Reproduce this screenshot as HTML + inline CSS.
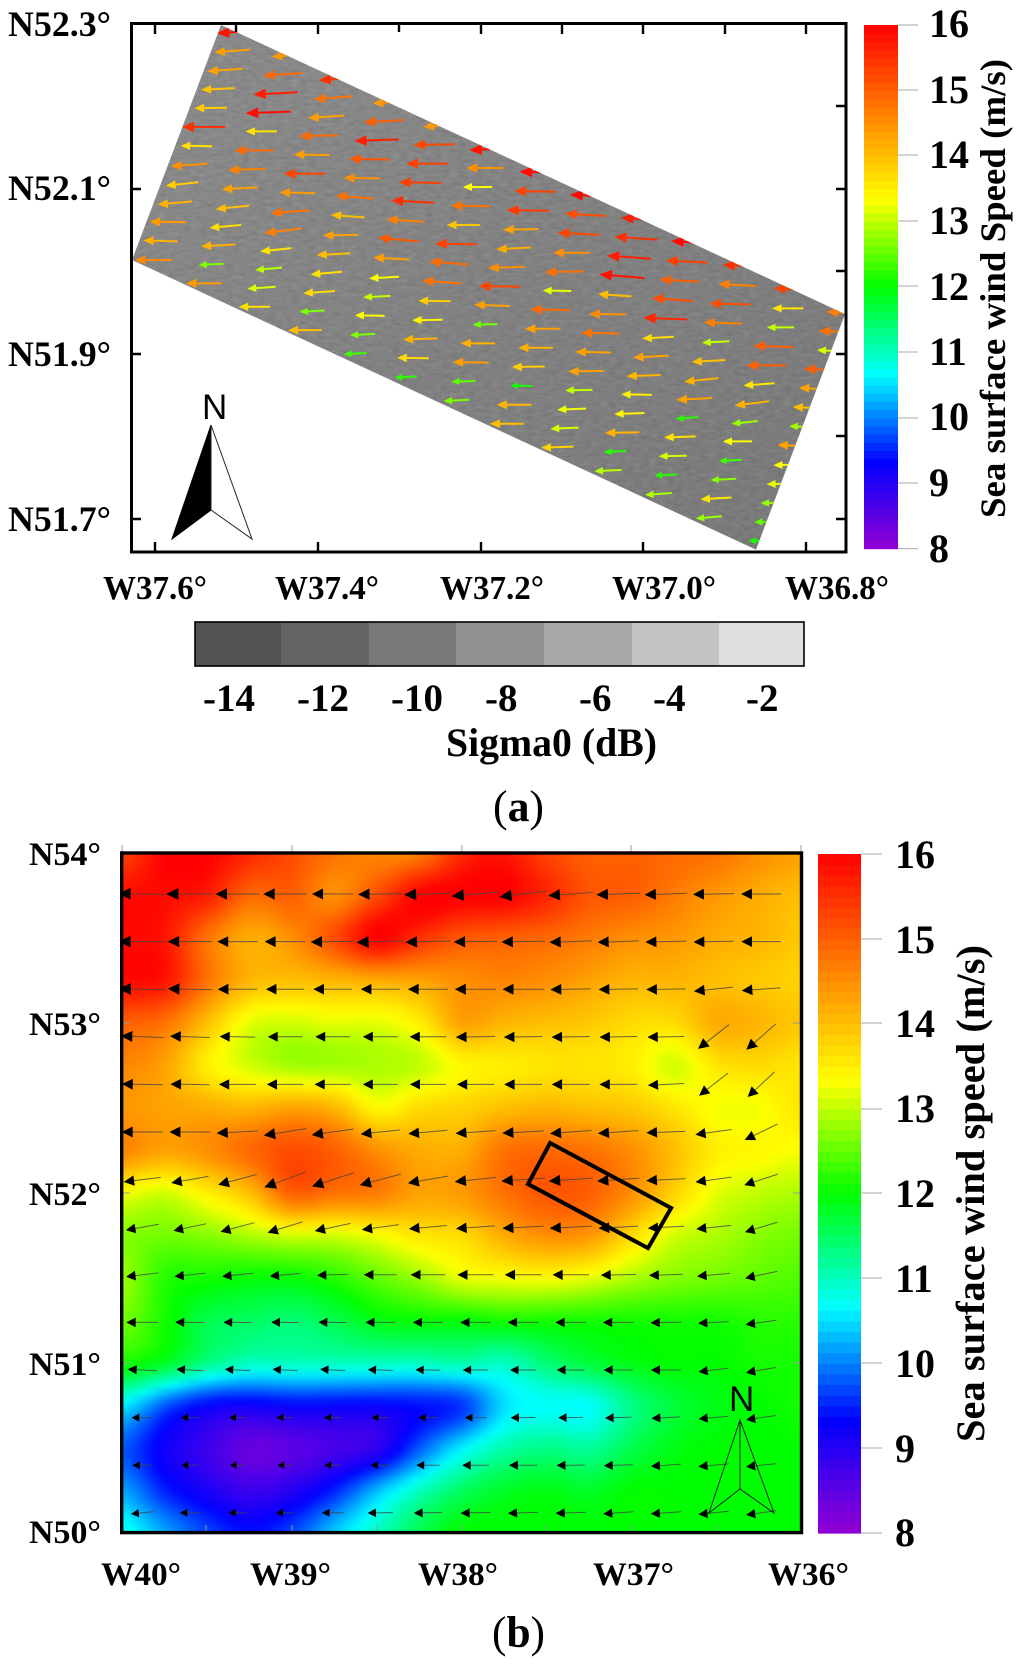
<!DOCTYPE html>
<html lang="en">
<head>
<meta charset="utf-8">
<title>Sea surface wind speed maps</title>
<style>
html,body{margin:0;padding:0;background:#fff;}
svg{display:block;}
text{font-family:"Liberation Serif",serif;font-weight:bold;fill:#000;}
.sans{font-family:"Liberation Sans",sans-serif;font-weight:normal;}
</style>
</head>
<body>
<svg id="fig" xmlns="http://www.w3.org/2000/svg" width="1024" height="1668" viewBox="0 0 1024 1668">
<defs>
<clipPath id="swathClip"><polygon id="swathClipPoly" points="0,0"/></clipPath>
<clipPath id="plotBClip"><rect x="122" y="853" width="680" height="680"/></clipPath>
<linearGradient id="swathGrad" x1="0" y1="0" x2="1" y2="1">
<stop offset="0" stop-color="#8d8d8d"/><stop offset="1" stop-color="#787878"/>
</linearGradient>
<filter id="noise" x="0" y="0" width="100%" height="100%" color-interpolation-filters="sRGB">
<feTurbulence type="fractalNoise" baseFrequency="0.12 0.30" numOctaves="2" seed="4"/>
<feColorMatrix type="matrix" values="0.6 0.6 0 0 -0.1  0.6 0.6 0 0 -0.1  0.6 0.6 0 0 -0.1  0 0 0 0 1"/>
</filter>
<filter id="heatBlur" filterUnits="userSpaceOnUse" x="90" y="820" width="745" height="745" color-interpolation-filters="sRGB">
<feGaussianBlur stdDeviation="3.2"/>
</filter>
</defs>

<!-- PANEL A -->
<g>
<g clip-path="url(#swathClip)">
<rect x="125" y="20" width="725" height="535" fill="url(#swathGrad)"/>
<rect x="125" y="20" width="725" height="535" filter="url(#noise)" opacity="0.11"/>
<g id="arrowsA"></g>
</g>
<rect x="131.5" y="23.5" width="714.5" height="528.5" fill="none" stroke="#000" stroke-width="3"/>
<g stroke="#000" stroke-width="2.4">
<path d="M155 24V34M236 24V32M318 24V34M399 24V32M481 24V34M562 24V34M643 24V34M725 24V34M806 24V34"/>
<path d="M155 552V542M318 552V542M481 552V542M643 552V542M806 552V542"/>
<path d="M132 189H141M132 354H141M132 519H141"/>
<path d="M846 106H836M846 189H836M846 271H836M846 354H836M846 436H836M846 519H836"/>
</g>
<text x="8" y="36" font-size="36" textLength="103" lengthAdjust="spacingAndGlyphs">N52.3°</text>
<text x="8" y="200" font-size="36" textLength="103" lengthAdjust="spacingAndGlyphs">N52.1°</text>
<text x="8" y="366" font-size="36" textLength="103" lengthAdjust="spacingAndGlyphs">N51.9°</text>
<text x="8" y="531" font-size="36" textLength="103" lengthAdjust="spacingAndGlyphs">N51.7°</text>
<text x="103" y="599" font-size="34" textLength="104" lengthAdjust="spacingAndGlyphs">W37.6°</text>
<text x="275" y="599" font-size="34" textLength="104" lengthAdjust="spacingAndGlyphs">W37.4°</text>
<text x="440" y="599" font-size="34" textLength="104" lengthAdjust="spacingAndGlyphs">W37.2°</text>
<text x="612" y="599" font-size="34" textLength="104" lengthAdjust="spacingAndGlyphs">W37.0°</text>
<text x="785" y="599" font-size="34" textLength="104" lengthAdjust="spacingAndGlyphs">W36.8°</text>

<g>
<text class="sans" x="202" y="419" font-size="35">N</text>
<polygon points="211,425 172,539 211,510" fill="#000" stroke="#000" stroke-width="1"/>
<polygon points="211,425 252,539 211,510" fill="#fff" stroke="#222" stroke-width="1"/>
</g>

<g id="colorbarA"></g>
<g stroke="#aaa" stroke-width="1">
<path d="M898 25H918M898 90H918M898 155H918M898 221H918M898 286H918M898 352H918M898 418H918M898 483H918M898 548.6H918"/>
</g>
<g font-size="40">
<text x="929" y="37">16</text>
<text x="929" y="103">15</text>
<text x="929" y="168">14</text>
<text x="929" y="234">13</text>
<text x="929" y="300">12</text>
<text x="929" y="365">11</text>
<text x="929" y="430">10</text>
<text x="929" y="496">9</text>
<text x="929" y="562">8</text>
</g>
<text transform="translate(1005,518) rotate(-90)" font-size="36" textLength="459" lengthAdjust="spacingAndGlyphs">Sea surface wind Speed (m/s)</text>

<g>
<rect x="195" y="622" width="86" height="44" fill="#535353"/>
<rect x="281" y="622" width="88" height="44" fill="#636363"/>
<rect x="369" y="622" width="87" height="44" fill="#787878"/>
<rect x="456" y="622" width="88" height="44" fill="#919191"/>
<rect x="544" y="622" width="88" height="44" fill="#a8a8a8"/>
<rect x="632" y="622" width="87" height="44" fill="#c3c3c3"/>
<rect x="719" y="622" width="85" height="44" fill="#dfdfdf"/>
<rect x="195" y="622" width="609" height="44" fill="none" stroke="#000" stroke-width="1.6"/>
</g>
<g font-size="39">
<text x="203" y="711">-14</text>
<text x="297" y="711">-12</text>
<text x="391" y="711">-10</text>
<text x="485" y="711">-8</text>
<text x="579" y="711">-6</text>
<text x="653" y="711">-4</text>
<text x="746" y="711">-2</text>
</g>
<text x="446" y="756" font-size="40" textLength="211" lengthAdjust="spacingAndGlyphs">Sigma0 (dB)</text>
<text x="493" y="821" font-size="44" textLength="51" lengthAdjust="spacingAndGlyphs"><tspan font-weight="normal">(</tspan>a<tspan font-weight="normal">)</tspan></text>
</g>

<!-- PANEL B -->
<g>
<g clip-path="url(#plotBClip)">
<g id="heatB" filter="url(#heatBlur)" shape-rendering="crispEdges"></g>
<g id="arrowsB"></g>
</g>
<polygon id="swathBox" fill="none" stroke="#000" stroke-width="4" stroke-linejoin="miter" points="0,0"/>
<g stroke="#999" stroke-width="1">
<path d="M122 845V853M292 845V853M462 845V853M631 845V853M801 845V853"/>
<path d="M206 1532V1525M292 1532V1525M377 1532V1525M462 1532V1525M546 1532V1525M631 1532V1525M716 1532V1525"/>
<path d="M122 1023H130M122 1193H130M122 1363H130M801 1023H793M801 1193H793M801 1363H793"/>
</g>
<rect x="121.7" y="853" width="679.8" height="679.6" fill="none" stroke="#000" stroke-width="3.4"/>
<g font-size="33">
<text x="29" y="865" textLength="72" lengthAdjust="spacingAndGlyphs">N54°</text>
<text x="29" y="1035" textLength="72" lengthAdjust="spacingAndGlyphs">N53°</text>
<text x="29" y="1205" textLength="72" lengthAdjust="spacingAndGlyphs">N52°</text>
<text x="29" y="1375" textLength="72" lengthAdjust="spacingAndGlyphs">N51°</text>
<text x="29" y="1543" textLength="72" lengthAdjust="spacingAndGlyphs">N50°</text>
</g>
<g font-size="33">
<text x="101" y="1585" textLength="80" lengthAdjust="spacingAndGlyphs">W40°</text>
<text x="250" y="1585" textLength="81" lengthAdjust="spacingAndGlyphs">W39°</text>
<text x="418" y="1585" textLength="80" lengthAdjust="spacingAndGlyphs">W38°</text>
<text x="593" y="1585" textLength="81" lengthAdjust="spacingAndGlyphs">W37°</text>
<text x="768" y="1585" textLength="81" lengthAdjust="spacingAndGlyphs">W36°</text>
</g>
<g fill="none" stroke="#1a1a1a" stroke-width="1">
<text class="sans" x="729" y="1411" font-size="35" stroke="none" style="fill:#000">N</text>
<polygon points="740,1420 709,1513 740,1489 774,1513"/>
<path d="M740 1420V1489"/>
</g>
<g id="colorbarB"></g>
<g stroke="#aaa" stroke-width="1">
<path d="M861 854H882M861 939H882M861 1023H882M861 1109H882M861 1193H882M861 1278H882M861 1363H882M861 1448H882M861 1533H882"/>
</g>
<g font-size="40">
<text x="895" y="868">16</text>
<text x="895" y="953">15</text>
<text x="895" y="1037">14</text>
<text x="895" y="1122">13</text>
<text x="895" y="1207">12</text>
<text x="895" y="1292">11</text>
<text x="895" y="1377">10</text>
<text x="895" y="1462">9</text>
<text x="895" y="1546">8</text>
</g>
<text transform="translate(984,1442) rotate(-90)" font-size="40" textLength="497" lengthAdjust="spacingAndGlyphs">Sea surface wind speed (m/s)</text>
<text x="492" y="1647" font-size="44" textLength="53" lengthAdjust="spacingAndGlyphs"><tspan font-weight="normal">(</tspan>b<tspan font-weight="normal">)</tspan></text>
</g>
</svg>

<script>
// Panel (a): SAR-derived wind speed (m/s), rows across track, columns along track
const sarSpeed = [
[15.8,14.4,15.5,14.4,14.4,15.8,15.9,15.9,15.7,15.9,15.5,15.3,14.67],
[14.33,14.9,14.8,15.0,15.25,14.5,15.3,15.2,15.5,15.33,14.67,13.6,14.8],
[14.3,15.67,14.33,15.67,15.33,13.3,15.4,15.3,15.67,15,15.2,13,13.1],
[13.95,15.85,14.9,15.1,15.33,14.8,14.33,14.5,15.8,15.2,14.67,15,15],
[13.85,13.65,14.33,14.5,15.5,13.95,14.2,14.8,14,15.6,13,15,14.3],
[15.5,14.9,15.3,14.8,14.67,15.33,14.5,13.2,14.5,13.7,14,13.6,14],
[13.65,14.67,14.4,14,15.1,14.9,15.3,14.9,14.8,14.3,14.15,14.15,12.85],
[14.5,14.33,14.8,14.33,14.33,14.8,14.33,14.33,14.3,14.1,14.3,12.8,14.3],
[13.85,14,14.67,14,13.4,13.85,12.6,14.15,14.3,13.5,12.2,13.3,13.3],
[14.15,13.7,13.65,13.65,13,13.5,14.15,13.85,13,13.45,13.65,12.3,13.2],
[14.4,14.15,12.95,13.7,13.4,14.15,14.4,12.1,13.25,14.1,13.1,12.7,12.8],
[14.15,12.65,13.15,12.65,12.65,13.7,12.5,14.1,13.15,12.2,12.2,13.6,12.5],
[14.55,14.4,13.65,14,12.3,12.2,12.65,14,13.8,12.95,12.9,12.8,12.1]
];
// Panel (a): wind direction relative to due west, degrees
const sarTilt = [
[3,4,4,4,4,3,-2,-3,-4,-4,-3,-3,-3],
[4,4,4,3,1,0,-1,-3,-4,-3,-3,0,-3],
[4,3,4,2,0,0,-1,-3,-4,-3,-1,0,-3],
[3,2,1,-1,-1,-1,1,0,-5,-4,-2,-2,-3],
[1,0,-1,-1,-3,0,3,1,-4,-2,3,0,-3],
[0,0,0,-4,-4,-1,2,-1,-1,3,3,4,-3],
[-1,2,-1,-4,-5,-5,-1,-1,-1,3,6,7,-3],
[4,3,4,1,-3,-4,-2,0,-1,2,3,6,-3],
[6,6,7,3,3,-1,1,0,1,-1,4,0,2],
[5,5,6,5,3,1,0,1,1,2,2,3,2],
[-1,3,5,4,-1,2,-1,-1,2,1,1,3,2],
[-2,3,4,3,3,-1,1,0,2,3,3,3,2],
[0,0,0,0,3,3,3,0,2,3,4,5,0]
];
// SAR scene corners as [west longitude, north latitude]
const swathCorners = [[37.5189,52.2985],[36.7521,51.9487],[36.8614,51.6634],[37.6283,52.014]];
// Panel (b): model wind speed (m/s), 0.25 degree grid, N54 to N50 (rows), W40 to W36 (columns)
const modelSpeed = [
[15.3,16,16,15.6,15.2,14.8,14.6,14.7,15.6,15.8,15.3,15,15,14.9,14.8,14.5,14.3],
[15.9,15.9,15.7,14.9,15,14.5,15.2,16,16,16,15.6,15.1,15,14.7,14.4,14.2,14],
[15.9,15.8,14.8,14.2,14.5,15.2,16,15.5,15.1,15,14.9,14.7,14.5,14.4,14.2,14.1,13.9],
[15.9,15.8,14.8,14.1,14,14.1,14.2,14.3,14.5,14.6,14.5,14.3,14.1,14.1,14,13.9,13.8],
[15,14.8,14,13.2,13.1,13.2,13.2,13.5,14.3,14.1,14,13.9,13.7,13.7,14.2,14.1,13.9],
[14.6,14.3,13.5,13.1,12.85,12.85,12.9,13,13.4,13.5,13.6,13.6,13.5,13.1,13.6,13.7,13.6],
[14.4,14.3,14.2,14.1,14.3,14.1,13.4,13.7,13.8,14,14.1,14,13.9,13.6,13.3,13.3,13.6],
[14.6,14.3,14.5,14.9,15.2,15,14.5,14.2,14.2,14.8,14.9,14.8,14.5,14,13.5,13.4,13.3],
[13.3,13.1,13.5,14,15,14.8,14.7,14.3,14.4,14.8,15.1,15,14.5,13.8,13.2,13,12.9],
[12.7,12.6,12.7,12.9,13.1,13.1,13.3,13.6,13.7,14.2,14.5,14.4,13.7,13.1,12.9,12.7,12.6],
[12.8,12.2,12.1,12,12,12.2,12.5,12.8,13.2,13.3,13.35,13.2,12.9,12.7,12.6,12.5,12.4],
[12.6,12.1,11.6,11.5,11.4,11.6,11.9,12,12,12.1,12.1,12.1,12.1,12.1,12.1,12.2,12.2],
[12.1,11.8,11.3,11,11,11,11,11,11.1,11,11.4,11.7,11.9,12,12,12.1,12.1],
[10.6,9.8,9.3,9.2,9.3,9.3,9.3,9.4,9.6,10.5,10.7,10.7,11.3,11.7,11.9,12,12.1],
[9.8,9.2,8.8,8.4,8.5,8.7,8.9,9.8,10.6,11.1,11.3,11.2,11.6,11.9,12,12,12],
[10.2,9.5,9.1,8.8,9,9.5,10.3,11,11.5,11.8,11.9,11.8,12,12,12,12,12],
[10.8,10.2,9.7,9.4,9.7,10.4,11,11.6,12,12,12,12,12,12,12,12,12]
];
// Panel (b): wind direction relative to due west, degrees
const modelTilt = [
[-1,0,0,0,0,1,2,5,7,4,2,2,1,0],
[0,0,0,0,1,2,1.5,1,1,2,2,1.5,1,0],
[-1,-1,0,0,0,0,0,0,0,1,1,1,6,4],
[-2,-2,-1,0,0,0,0,1,1,1,1,1,38,41],
[-1,-1,0,0,0,0,0,0,0,0,0,3,38,43],
[0,0,3,9,8,6,5,4,3,4,4,2,8,26],
[7,10,15,20,18,15,10,6,4,4,4,3,8,18],
[10,12,15,17,12,8,5,4,3,3,3,3,6,17],
[7,6,6,5,2,0,0,0,0,0,1,2,5,12],
[0,-1,-1,-1,-1,0,0,0,0,0,0,1,3,8],
[-3,-3,-3,-3,-3,-2,-1,0,0,0,0,0,7,10],
[0,0,0,0,0,0,0,0,1,1,2,3,5,8],
[0,0,0,0,0,0,0,0,0,1,2,4,5,6],
[6,0,0,0,0,1,1,1,2,2,4,4,6,8]
];
// Location of the SAR scene on panel (b), [west longitude, north latitude]
const boxCorners = [[37.482,52.294],[36.77,51.912],[36.906,51.676],[37.612,52.053]];

const NS = 'http://www.w3.org/2000/svg';
function xA(lon){ return 155 + (37.6 - lon) * 813.75; }
function yA(lat){ return 189 + (52.1 - lat) * 826; }
function xB(lon){ return 122 + (40 - lon) * 170; }
function yB(lat){ return 853 + (54 - lat) * 170; }
function barYA(v){ return 548.6 - (v - 8) * 65.45; }
function barYB(v){ return 1533 - (v - 8) * 84.875; }

function speedColor(s){
  const sv = [8, 9.333, 10.667, 12, 13.333, 14.667, 16];
  const cv = [[148,0,211],[0,0,255],[0,255,255],[0,255,0],[255,255,0],[255,127,0],[255,0,0]];
  const v = Math.max(8, Math.min(16, s));
  let k = 0;
  while (k < sv.length - 2 && v > sv[k + 1]) k++;
  const t = (v - sv[k]) / (sv[k + 1] - sv[k]);
  const c = [0, 1, 2].map(function(n){ return Math.round(cv[k][n] + (cv[k + 1][n] - cv[k][n]) * t); });
  return 'rgb(' + c.join(',') + ')';
}
function mk(parent, tag, attrs){
  const node = document.createElementNS(NS, tag);
  Object.keys(attrs).forEach(function(k){ node.setAttribute(k, attrs[k]); });
  parent.appendChild(node);
  return node;
}
function arrowShape(cx, cy, len, tiltDeg, headLen, headHalf){
  const t = tiltDeg * Math.PI / 180, ux = Math.cos(t), uy = -Math.sin(t);
  const tipX = cx - ux * len / 2, tipY = cy - uy * len / 2;
  const tailX = cx + ux * len / 2, tailY = cy + uy * len / 2;
  const bx = tipX + ux * headLen, by = tipY + uy * headLen;
  const px = -uy * headHalf, py = ux * headHalf;
  return {
    line: [bx - ux, by - uy, tailX, tailY],
    head: [tipX, tipY, bx + px, by + py, bx - px, by - py].map(function(n){ return n.toFixed(1); }).join(' ')
  };
}
function bicubicSpeed(lon, lat){
  const fx = (40 - lon) / 0.25, fy = (54 - lat) / 0.25;
  const ix = Math.floor(fx), iy = Math.floor(fy), tx = fx - ix, ty = fy - iy;
  function w(t){ return [(-t*t*t+2*t*t-t)/2, (3*t*t*t-5*t*t+2)/2, (-3*t*t*t+4*t*t+t)/2, (t*t*t-t*t)/2]; }
  const wx = w(tx), wy = w(ty);
  let s = 0;
  for (let r = 0; r < 4; r++) {
    const row = modelSpeed[Math.max(0, Math.min(16, iy + r - 1))];
    for (let c = 0; c < 4; c++) {
      s += wy[r] * wx[c] * row[Math.max(0, Math.min(16, ix + c - 1))];
    }
  }
  return Math.max(8, Math.min(16, s));
}

// swath outline
const swathPts = swathCorners.map(function(p){ return xA(p[0]).toFixed(1) + ',' + yA(p[1]).toFixed(1); }).join(' ');
document.getElementById('swathClipPoly').setAttribute('points', swathPts);
document.getElementById('swathBox').setAttribute('points', boxCorners.map(function(p){ return xB(p[0]).toFixed(1) + ',' + yB(p[1]).toFixed(1); }).join(' '));

// panel (a) arrows
const arrowsA = document.getElementById('arrowsA');
sarSpeed.forEach(function(row, i){
  row.forEach(function(s, j){
    const lon = 37.4964 + 0.008807 * i - 0.06206 * j;
    const lat = 52.2901 - 0.0230 * i - 0.02833 * j;
    const len = 21.7 + 6.3 * (s - 12.1);
    const a = arrowShape(xA(lon), yA(lat), len, sarTilt[i][j], 3 + len * 0.21, 1.5 + len * 0.085);
    const col = speedColor(s);
    const g = mk(arrowsA, 'g', {});
    
    
    mk(g, 'line', {x1:a.line[0], y1:a.line[1], x2:a.line[2], y2:a.line[3], stroke:col, 'stroke-width':2});
    mk(g, 'polygon', {points:a.head, fill:col});
  });
});

// panel (a) colorbar
const barA = document.getElementById('colorbarA');
for (let n = 0; n < 64; n++) {
  const v0 = 8 + n / 8, v1 = v0 + 1 / 8;
  const r = mk(barA, 'rect', {x:864, y:barYA(v1), width:34, height:barYA(v0) - barYA(v1) + 0.6, fill:speedColor((v0 + v1) / 2)});
  
  
}

// panel (b) heatmap cells
const heat = document.getElementById('heatB');
const cell = 8;
for (let py = 829; py < 1557; py += cell) {
  for (let px = 98; px < 826; px += cell) {
    const lon = 40 - (px + cell / 2 - 122) / 170;
    const lat = 54 - (py + cell / 2 - 853) / 170;
    const c = mk(heat, 'rect', {x:px, y:py, width:cell, height:cell, fill:speedColor(bicubicSpeed(Math.max(36, Math.min(40, lon)), Math.max(50, Math.min(54, lat))))});
    
    
  }
}

// panel (b) arrows
const arrowsB = document.getElementById('arrowsB');
modelTilt.forEach(function(row, r){
  row.forEach(function(tilt, k){
    const lon = 39.8806 - 0.28 * k;
    const lat = 53.7588 - 0.28 * r;
    const s = bicubicSpeed(lon, lat);
    const len = 15 + (s - 8.5) * 4.4;
    const a = arrowShape(xB(lon), yB(lat), len, tilt, 4 + 0.17 * len, 2.6 + 0.07 * len);
    const g = mk(arrowsB, 'g', {});
    
    
    mk(g, 'line', {x1:a.line[0], y1:a.line[1], x2:a.line[2], y2:a.line[3], stroke:'#444', 'stroke-width':1, 'stroke-opacity':0.8});
    mk(g, 'polygon', {points:a.head, fill:'#000'});
  });
});

// panel (b) colorbar
const barB = document.getElementById('colorbarB');
for (let n = 0; n < 64; n++) {
  const v0 = 8 + n / 8, v1 = v0 + 1 / 8;
  const r = mk(barB, 'rect', {x:818, y:barYB(v1), width:43, height:barYB(v0) - barYB(v1) + 0.6, fill:speedColor((v0 + v1) / 2)});
  
  
}
</script>
</body>
</html>
